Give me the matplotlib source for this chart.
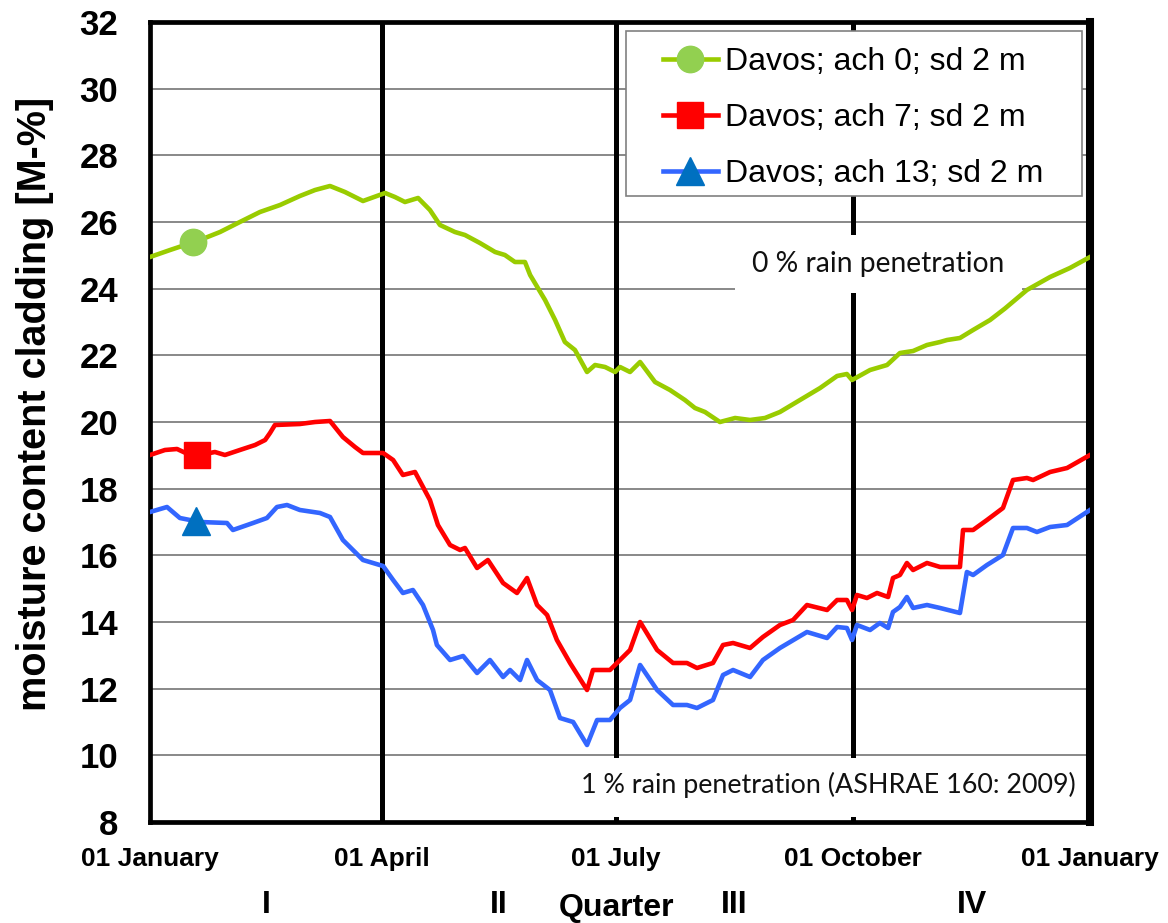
import numpy as np
import matplotlib
matplotlib.use("Agg")
import matplotlib.pyplot as plt
from matplotlib.patches import Rectangle
from matplotlib.lines import Line2D
import matplotlib.transforms as mtransforms

# ---------------- data (day of year, moisture content [M-%]) ----------------
green_day = [0, 7.8, 13.6, 19.4, 27.2, 34.9, 42.7, 50.5, 58.2, 64.1, 69.9, 75.7, 82.7, 91.3, 95.1,
             99.0, 104.1, 108.7, 112.6, 118.4, 122.3, 128.1, 134.0, 137.8, 141.7, 145.6, 147.6,
             153.4, 157.3, 161.1, 165.0, 169.7, 172.8, 176.7, 180.6, 182.5, 186.4, 190.3, 196.1,
             201.9, 207.7, 211.6, 215.5, 221.3, 227.2, 233.0, 238.8, 244.6, 252.4, 260.2, 266.8,
             270.6, 272.6, 279.6, 286.2, 291.2, 296.3, 301.7, 306.8, 309.5, 314.5, 319.6, 326.2,
             331.9, 340.5, 349.5, 357.2, 365]
green_val = [24.95, 25.16, 25.31, 25.46, 25.70, 26.0, 26.3, 26.51, 26.78, 26.96, 27.08, 26.9, 26.63,
             26.87, 26.75, 26.6, 26.72, 26.36, 25.91, 25.7, 25.61, 25.37, 25.1, 25.01, 24.8, 24.8,
             24.41, 23.66, 23.06, 22.4, 22.16, 21.5, 21.71, 21.65, 21.5, 21.65, 21.5, 21.8, 21.2,
             20.96, 20.66, 20.42, 20.3, 20.0, 20.12, 20.06, 20.12, 20.3, 20.66, 21.02, 21.38,
             21.44, 21.26, 21.56, 21.71, 22.07, 22.13, 22.31, 22.40, 22.46, 22.52, 22.76, 23.06,
             23.40, 23.96, 24.35, 24.62, 24.95]

red_day = [0, 5.8, 10.5, 15.5, 19.4, 25.2, 29.1, 34.9, 40.8, 44.7, 46.6, 48.5, 58.2, 64.1, 69.9,
           74.9, 79.6, 82.7, 90.5, 94.4, 98.2, 102.9, 108.7, 111.8, 116.5, 120.4, 122.3, 127.0,
           131.2, 137.1, 142.5, 146.4, 150.3, 154.2, 158.0, 163.1, 169.7, 172.0, 178.6, 182.5,
           186.4, 190.3, 196.9, 203.1, 208.5, 212.4, 218.6, 222.5, 226.4, 233.0, 238.0, 244.6,
           249.7, 255.1, 262.9, 266.8, 270.6, 272.6, 274.5, 278.4, 282.3, 286.6, 288.5, 291.2,
           293.9, 296.3, 301.7, 306.8, 314.5, 315.7, 319.6, 325.0, 331.2, 335.1, 340.5, 342.9,
           349.5, 356.1, 365]
red_val = [19.01, 19.16, 19.19, 19.01, 19.01, 19.1, 19.01, 19.16, 19.31, 19.46, 19.67, 19.91,
           19.94, 20.0, 20.03, 19.55, 19.25, 19.07, 19.07, 18.86, 18.41, 18.5, 17.66, 16.91,
           16.31, 16.16, 16.22, 15.62, 15.86, 15.17, 14.87, 15.32, 14.51, 14.21, 13.46, 12.77,
           11.96, 12.56, 12.56, 12.86, 13.16, 14.0, 13.16, 12.77, 12.77, 12.62, 12.77, 13.31,
           13.37, 13.22, 13.55, 13.91, 14.06, 14.51, 14.36, 14.66, 14.66, 14.36, 14.81, 14.72,
           14.87, 14.75, 15.32, 15.41, 15.77, 15.56, 15.77, 15.65, 15.65, 16.76, 16.76, 17.06,
           17.42, 18.26, 18.32, 18.26, 18.5, 18.62, 19.01]

blue_day = [0, 6.6, 11.6, 19.4, 29.9, 32.2, 40.0, 45.4, 49.3, 53.2, 58.2, 66.0, 69.9, 74.9, 78.8,
            82.7, 90.5, 94.4, 98.2, 102.1, 106.0, 109.9, 111.4, 116.5, 121.6, 127.0, 132.0, 137.1,
            139.8, 143.7, 146.4, 150.3, 155.3, 159.2, 164.3, 169.7, 173.6, 178.6, 182.5, 186.4,
            190.3, 196.9, 203.1, 208.5, 212.4, 218.6, 222.5, 226.4, 233.0, 238.0, 244.6, 255.1,
            262.9, 266.8, 270.6, 272.6, 274.5, 279.6, 283.4, 286.6, 288.5, 291.2, 293.9, 296.3,
            301.7, 306.8, 314.5, 317.2, 319.6, 325.0, 331.2, 335.1, 340.5, 344.4, 349.5, 356.1,
            365]
blue_val = [17.3, 17.45, 17.12, 17.0, 16.97, 16.76, 16.97, 17.12, 17.45, 17.51, 17.36, 17.27,
            17.15, 16.46, 16.16, 15.86, 15.68, 15.26, 14.87, 14.96, 14.51, 13.76, 13.31, 12.86,
            12.98, 12.47, 12.86, 12.35, 12.56, 12.26, 12.86, 12.26, 11.96, 11.12, 11.0, 10.31,
            11.06, 11.06, 11.42, 11.66, 12.71, 11.96, 11.51, 11.51, 11.42, 11.66, 12.41, 12.56,
            12.35, 12.86, 13.22, 13.7, 13.52, 13.85, 13.82, 13.46, 13.91, 13.76, 13.97, 13.82,
            14.3, 14.45, 14.75, 14.42, 14.51, 14.42, 14.27, 15.5, 15.41, 15.71, 16.01, 16.82,
            16.82, 16.7, 16.85, 16.91, 17.36]

series_labels = ["Davos; ach 0; sd 2 m", "Davos; ach 7; sd 2 m", "Davos; ach 13; sd 2 m"]
marker_days = [16.7, 18.3, 17.9]

tick_days = [0, 90, 181, 273, 365]
tick_labels = ["01 January", "01 April", "01 July", "01 October", "01 January"]
quarter_bounds = [0, 90, 181, 273, 365]
quarter_names = ["I", "II", "III", "IV"]
y_ticks = list(range(8, 33, 2))

note_top = "0 % rain penetration"
note_bottom = "1 % rain penetration (ASHRAE 160: 2009)"

# ---------------- styles ----------------
line_colors = ["#99CC00", "#FF0000", "#3366FF"]
marker_colors = ["#92D050", "#FF0000", "#0070C0"]
marker_shapes = ["o", "s", "^"]
marker_sizes = [19, 19, 20]

BOLD = "Liberation Sans"

fig = plt.figure(figsize=(11.68, 9.23), dpi=100)
ax = fig.add_axes([150 / 1168, 101 / 923, 940 / 1168, 800 / 923])

ax.set_xlim(0, 365)
ax.set_ylim(8, 32)

# grid
ax.set_yticks(y_ticks)
ax.yaxis.grid(True, color="#7f7f7f", lw=1.3, zorder=0.5)
ax.set_axisbelow(True)

# quarter separators
for d in quarter_bounds[1:-1]:
    ax.axvline(d, color="black", lw=3.6, zorder=1.5)

# white boxes behind notes
ax.add_patch(Rectangle((0.6223, 0.6613), 0.3054, 0.0725, transform=ax.transAxes,
                       facecolor="white", edgecolor="none", zorder=2))
ax.add_patch(Rectangle((0.4362, 0.006), 0.4734, 0.0745, transform=ax.transAxes,
                       facecolor="white", edgecolor="none", zorder=2))
ax.text(0.775, 0.6975, note_top, transform=ax.transAxes, ha="center", va="center",
        fontsize=20.3, family="Lato", zorder=2.2, color="#111111")
ax.text(0.7213, 0.0463, note_bottom, transform=ax.transAxes, ha="center", va="center",
        fontsize=19.4, family="Lato", zorder=2.2, color="#111111")

# data lines
days_list = [green_day, red_day, blue_day]
vals_list = [green_val, red_val, blue_val]
for d, v, lc, mc, ms, msz, md in zip(days_list, vals_list, line_colors, marker_colors,
                                     marker_shapes, marker_sizes, marker_days):
    ax.plot(d, v, color=lc, lw=3.3, zorder=3, solid_joinstyle="round")
    ax.plot([md], [np.interp(md, d, v)], marker=ms, color=mc, markersize=msz,
            markeredgecolor=mc, linestyle="none", zorder=3.5)

# spines
for s in ["left", "top", "bottom"]:
    ax.spines[s].set_linewidth(3.4)
ax.spines["right"].set_linewidth(5.8)
for s in ax.spines.values():
    s.set_zorder(2.5)

# ticks
ax.set_xticks(tick_days)
ax.set_xticklabels(tick_labels, fontsize=19, fontweight="bold", family=BOLD)
ax.set_yticklabels([str(t) for t in y_ticks], fontsize=25, fontweight="bold", family=BOLD)
ax.tick_params(axis="both", length=0)
ax.tick_params(axis="x", pad=18)
ax.tick_params(axis="y", pad=23)

ax.set_ylabel("moisture content cladding [M-%]", fontsize=28.5, fontweight="bold", family=BOLD)
ax.yaxis.set_label_coords(-0.102, 0.522)

# quarter labels
trans = mtransforms.blended_transform_factory(ax.transData, ax.transAxes)
for i, name in enumerate(quarter_names):
    mid = (quarter_bounds[i] + quarter_bounds[i + 1]) / 2
    ax.text(mid, -0.104, name, transform=trans, ha="center", va="center",
            fontsize=23, fontweight="bold", family=BOLD)
ax.text(quarter_bounds[2], -0.107, "Quarter", transform=trans, ha="center", va="center",
        fontsize=23, fontweight="bold", family=BOLD)

# legend
ax.add_patch(Rectangle((0.5064, 0.7825), 0.4851, 0.2063, transform=ax.transAxes,
                       facecolor="white", edgecolor="#808080", lw=1.2, zorder=4))
handles = [Line2D([], [], color=lc, lw=3.3, marker=ms, markersize=msz, markerfacecolor=mc,
                  markeredgecolor=mc)
           for lc, mc, ms, msz in zip(line_colors, marker_colors, marker_shapes, marker_sizes)]
leg = ax.legend(handles, series_labels, loc="upper left", bbox_to_anchor=(0.5457, 0.969),
                frameon=False, handlelength=1.72, handletextpad=0.22,
                borderpad=0, borderaxespad=0, labelspacing=0.82,
                prop={"family": "Liberation Sans", "size": 23})
leg.set_zorder(5)

fig.savefig("out.png", dpi=100)
